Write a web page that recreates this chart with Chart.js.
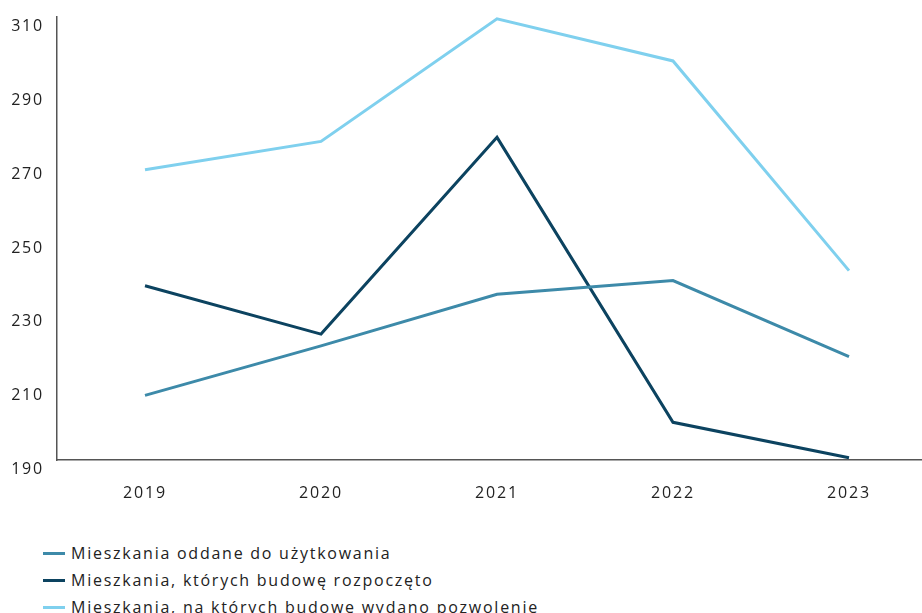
<!DOCTYPE html>
<html>
<head>
<meta charset="utf-8">
<script src="https://cdn.jsdelivr.net/npm/chart.js@4/dist/chart.umd.min.js"></script>
<style>
  html, body { margin: 0; padding: 0; background: #fff; overflow: hidden; }
  body { width: 922px; height: 613px; position: relative; font-family: "Open Sans", sans-serif; }
  #wrap { position: absolute; left: 0; top: 0; width: 937px; height: 520px; }
  #legend { position: absolute; left: 43px; top: 540px; margin: 0; padding: 0; list-style: none; }
  #legend li { height: 27px; line-height: 27px; font-size: 16px; letter-spacing: 1.75px; color: #222; white-space: nowrap; display: flex; align-items: center; }
  #legend li span.sw { display: inline-block; width: 22px; height: 3px; margin-right: 6px; }
</style>
</head>
<body>
<div id="wrap"><canvas id="c" width="937" height="520"></canvas></div>
<ul id="legend"></ul>
<script>
// Years on the category axis
const years = ['2019', '2020', '2021', '2022', '2023'];

// Dwellings (thousands)
const completed = [207.5, 220.9, 234.9, 238.6, 218.0];
const started   = [237.2, 224.1, 277.4, 200.2, 190.6];
const permitted = [268.6, 276.3, 309.5, 298.1, 241.3];

const seriesNames = [
  'Mieszkania oddane do użytkowania',
  'Mieszkania, których budowę rozpoczęto',
  'Mieszkania, na których budowę wydano pozwolenie'
];
const seriesColors = ['#3D8AA9', '#0C4360', '#7FD0EE'];

// Y-axis range and step
const yMin = 190, yMax = 310, yStep = 20;

const seriesData = [completed, started, permitted];

const datasets = seriesData.map((d, i) => ({
  label: seriesNames[i],
  data: d,
  borderColor: seriesColors[i],
  backgroundColor: seriesColors[i],
  borderWidth: 3,
  pointRadius: 0,
  pointHoverRadius: 0,
  tension: 0,
  fill: false
}));

const axisFont = { family: '"Open Sans", sans-serif', size: 16 };

// Wider tracking for the axis labels
const tracking = {
  id: 'tracking',
  beforeDraw(chart) { chart.ctx.letterSpacing = '1.8px'; }
};

new Chart(document.getElementById('c'), {
  type: 'line',
  data: { labels: years, datasets },
  plugins: [tracking],
  options: {
    responsive: false,
    animation: false,
    layout: { padding: { top: 17, right: 0, left: 0, bottom: 0 } },
    plugins: {
      legend: { display: false },
      tooltip: { enabled: false }
    },
    scales: {
      x: {
        offset: true,
        grid: { display: false, drawTicks: false },
        border: { display: true, color: '#555', width: 1.5 },
        ticks: { color: '#222', font: axisFont, padding: 24 },
        afterFit: (s) => { s.height = 60; s.paddingLeft = 0; s.paddingRight = 0; }
      },
      y: {
        min: yMin,
        max: yMax,
        grid: { display: false, drawTicks: false },
        border: { display: true, color: '#555', width: 1.5 },
        ticks: { stepSize: yStep, color: '#222', font: axisFont, padding: 13, labelOffset: 9.5 },
        afterFit: (s) => { s.width = 57; s.paddingTop = 0; s.paddingBottom = 0; }
      }
    }
  }
});

// Legend list below the chart
const legend = document.getElementById('legend');
seriesNames.forEach((name, i) => {
  const li = document.createElement('li');
  const sw = document.createElement('span');
  sw.className = 'sw';
  sw.style.background = seriesColors[i];
  li.appendChild(sw);
  li.appendChild(document.createTextNode(name));
  legend.appendChild(li);
});
</script>
</body>
</html>
